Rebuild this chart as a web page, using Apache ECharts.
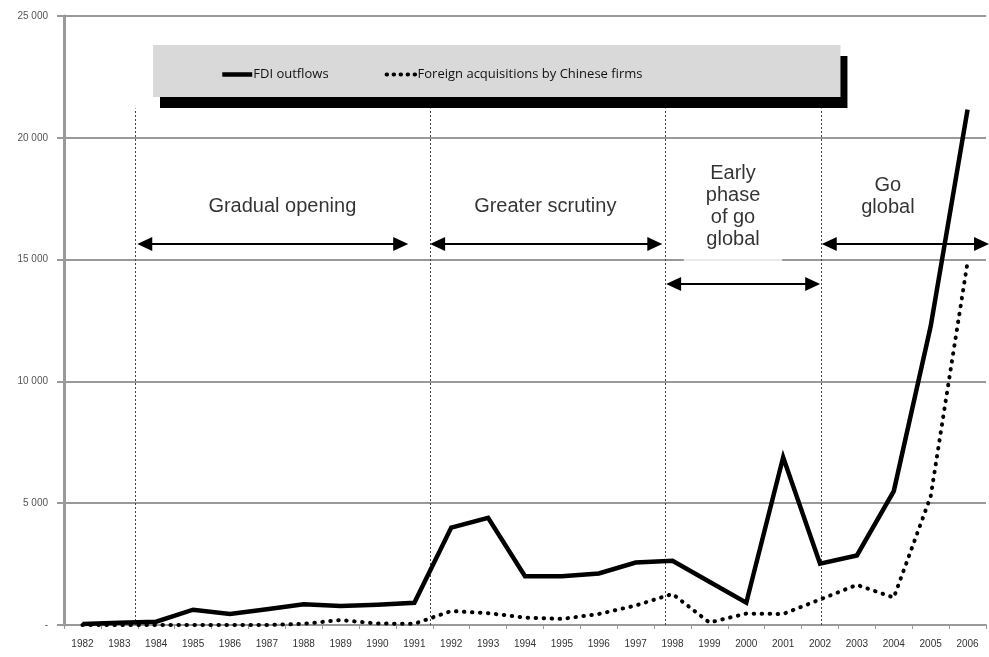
<!DOCTYPE html>
<html>
<head>
<meta charset="utf-8">
<title>China FDI outflows</title>
<script src="https://cdn.jsdelivr.net/npm/echarts@6/dist/echarts.min.js"></script>
<style>
  html, body { margin: 0; padding: 0; background: #fff; }
  #chart { width: 989px; height: 657px; }
</style>
</head>
<body>
<div id="chart"></div>
<script>
var chart = echarts.init(document.getElementById('chart'));

const years = ['1982', '1983', '1984', '1985', '1986', '1987', '1988', '1989', '1990', '1991',
    '1992', '1993', '1994', '1995', '1996', '1997', '1998', '1999', '2000', '2001',
    '2002', '2003', '2004', '2005', '2006'];
const fdiOutflows = [44, 93, 134, 629, 450, 645, 850, 780, 830, 913,
    4000, 4400, 2000, 2000, 2114, 2562, 2634, 1774, 916, 6885,
    2518, 2855, 5498, 12261, 21160];
const foreignAcquisitions = [0, 0, 0, 0, 0, 0, 50, 202, 60, 50,
    573, 485, 305, 249, 451, 799, 1276, 101, 470, 452,
    1047, 1647, 1125, 5279, 14900];

// phase annotations, in category-index units on a hidden value axis
const phaseNames = ['Gradual opening', 'Greater scrutiny', 'Early\nphase\nof go\nglobal', 'Go\nglobal'];
const phaseLabelX = [5.42, 12.55, 17.64, 21.84];
const phaseLabelY = [17200, 17200, 17180, 17600];
const phaseDividers = [1.44, 9.43, 15.8, 20.03];
const dividerTop = 21200;
const arrowFrom = [1.49, 9.43, 15.83, 20.05];
const arrowTo = [8.83, 15.72, 20.0, 24.58];
const arrowLevel = [15640, 15640, 14000, 15640];

const headInset = 0.2;

function fmtThousands(v) {
    if (v === 0) return '-';
    return String(v).replace(/\B(?=(\d{3})+(?!\d))/g, ' ');
}

var labelItems = phaseNames.map(function (n, i) {
    var item = { value: [phaseLabelX[i], phaseLabelY[i], n] };
    if (i === 2) {
        // white box so the label breaks the 15 000 gridline
        item.label = { backgroundColor: '#fff', padding: [5, 22, 20, 22] };
    }
    return item;
});

chart.setOption({
    animation: false,
    textStyle: { fontFamily: 'Liberation Sans' },
    grid: { left: 64, right: 3, top: 16, bottom: 32, containLabel: false },
    legend: {
        data: [
            { name: 'FDI outflows', lineStyle: { width: 4.5 } },
            { name: 'Foreign acquisitions by Chinese firms', lineStyle: { width: 4, type: [0.5, 6.5], cap: 'round' } }
        ],
        left: 153,
        top: 45,
        padding: [23, 198, 16, 67],
        itemGap: 56,
        itemWidth: 30,
        itemHeight: 14,
        backgroundColor: '#d9d9d9',
        borderWidth: 0,
        shadowColor: '#000',
        shadowBlur: 0,
        shadowOffsetX: 7,
        shadowOffsetY: 11,
        selectedMode: false,
        itemStyle: { color: 'rgba(0,0,0,0)', borderWidth: 0, borderColor: 'rgba(0,0,0,0)' },
        textStyle: { fontFamily: 'Open Sans', fontSize: 13, color: '#111', padding: [0, 0, 0, -4] }
    },
    xAxis: [{
        type: 'category',
        data: years,
        boundaryGap: true,
        axisLine: { lineStyle: { color: '#999', width: 2 } },
        axisTick: { show: true, interval: 0, length: 4, lineStyle: { color: '#999', width: 1 } },
        axisLabel: { interval: 0, fontSize: 10, color: '#333', margin: 14 },
        splitLine: { show: false }
    }, {
        type: 'value',
        min: -0.5,
        max: 24.5,
        show: false
    }],
    yAxis: {
        type: 'value',
        min: 0,
        max: 25000,
        interval: 5000,
        axisLine: { show: true, onZero: false, lineStyle: { color: '#999', width: 3 } },
        axisTick: { show: true, length: 7, lineStyle: { color: '#999', width: 2 } },
        axisLabel: { fontSize: 10, color: '#555', margin: 16, formatter: fmtThousands },
        splitLine: { lineStyle: { color: '#999', width: 2 } }
    },
    series: [{
        name: 'FDI outflows',
        type: 'line',
        data: fdiOutflows,
        symbol: 'none',
        z: 5,
        lineStyle: { color: '#000', width: 4.5, join: 'miter' },
        itemStyle: { color: '#000' }
    }, {
        name: 'Foreign acquisitions by Chinese firms',
        type: 'line',
        data: foreignAcquisitions,
        symbol: 'none',
        z: 4,
        lineStyle: { color: '#000', width: 4, type: [0.5, 7.5], cap: 'round' },
        itemStyle: { color: '#000' }
    }, {
        type: 'scatter',
        xAxisIndex: 1,
        silent: true,
        z: 3,
        symbolSize: 1,
        itemStyle: { color: 'rgba(0,0,0,0)' },
        data: labelItems,
        label: {
            show: true,
            position: 'inside',
            formatter: function (p) { return p.value[2]; },
            fontFamily: 'Liberation Sans',
            fontSize: 20,
            lineHeight: 22,
            color: '#000',
            align: 'center'
        },
        markLine: {
            silent: true,
            symbol: 'none',
            label: { show: false },
            lineStyle: { color: '#444', width: 1, type: [2, 2] },
            data: phaseDividers.map(function (x) {
                return [{ coord: [x, 0] }, { coord: [x, dividerTop] }];
            })
        }
    }, {
        type: 'scatter',
        xAxisIndex: 1,
        silent: true,
        z: 6,
        data: [],
        markLine: {
            silent: true,
            symbol: ['triangle', 'triangle'],
            symbolSize: [14, 15],
            label: { show: false },
            lineStyle: { color: '#000', width: 2, type: 'solid' },
            itemStyle: { color: '#000' },
            data: arrowFrom.map(function (x, i) {
                return [{ coord: [x + headInset, arrowLevel[i]] }, { coord: [arrowTo[i] - headInset, arrowLevel[i]] }];
            })
        }
    }]
});

window.addEventListener('resize', function () {
    chart.resize();
});
</script>
</body>
</html>
